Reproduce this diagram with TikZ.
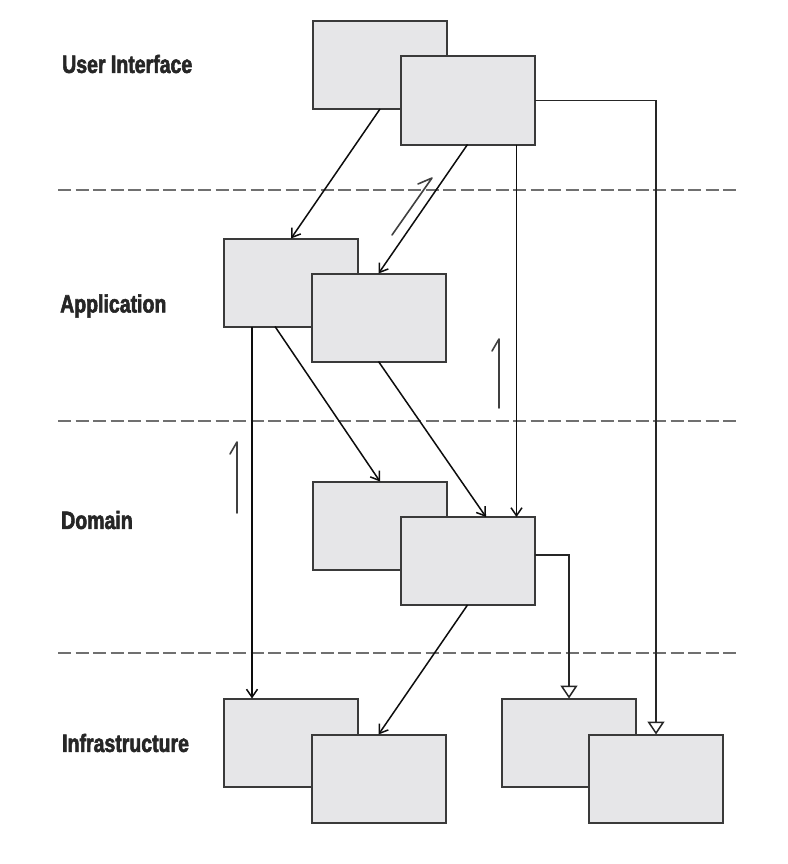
\documentclass[tikz,border=0pt]{standalone}
\usepackage{fontspec}
\newfontfamily\lblfont[FakeStretch=0.78,FakeBold=2.2]{Liberation Sans}
\usetikzlibrary{arrows.meta,calc}
\definecolor{boxfill}{HTML}{E6E6E8}
\definecolor{boxline}{HTML}{3A3A3A}
\definecolor{dashcol}{HTML}{707070}
\begin{document}
\begin{tikzpicture}[x=1pt,y=-1pt,
  box/.style={draw=boxline,fill=boxfill,line width=2pt,minimum width=134pt,minimum height=88pt,inner sep=0pt,outer sep=0pt},
  layerlabel/.style={anchor=west,inner sep=0pt,font=\lblfont\bfseries\fontsize{25}{28}\selectfont,text=black!85},
  sep/.style={draw=dashcol,line width=1.6pt,dash pattern=on 13pt off 4.5pt},
  dep/.style={draw=black!95,line width=1.5pt,-{Straight Barb[length=8pt,width=11pt]}},
  gen/.style={draw=black!85,line width=1.5pt,-{Triangle[open,length=13pt,width=17pt,line width=1.5pt]}},
  hand/.style={draw=black!75,line width=1.6pt,line cap=round,line join=round}]
\useasboundingbox (0,0) rectangle (787,864);
\fill[white] (0,0) rectangle (787,864);

% layer separators
\draw[sep] (58,190) -- (737,190);
\draw[sep] (58,421) -- (737,421);
\draw[sep] (58,653) -- (737,653);

% labels
\node[layerlabel] (lui) at (62,64) {User Interface};
\node[layerlabel] (lapp) at (60,306) {Application};
\node[layerlabel] (ldom) at (61,520) {Domain};
\node[layerlabel] (linf) at (62,743) {Infrastructure};

% boxes
\node[box] (ui1) at (380,65) {};
\node[box] (ui2) at (467.5,100.5) {};
\node[box] (app1) at (291,282.5) {};
\node[box] (app2) at (378.5,317.5) {};
\node[box] (dom1) at (380,525.5) {};
\node[box] (dom2) at (467.5,561) {};
\node[box] (inf1) at (291,742.5) {};
\node[box] (inf2) at (378.5,778.5) {};
\node[box] (inf3) at (569,742.5) {};
\node[box] (inf4) at (656,778.5) {};

% dependencies
\draw[dep] (ui1.south) -- (app1.north);
\draw[dep] (ui2.south) -- (app2.north);
\draw[dep] ([xshift=49pt]ui2.south) -- ([xshift=49pt]dom2.north);
\draw[gen] (ui2.east) -| (inf4.north);
\draw[dep] ([xshift=-16pt]app1.south) -- (dom1.north);
\draw[dep] ([xshift=-39pt]app1.south) -- ([xshift=-39pt]inf1.north);
\draw[dep] (app2.south) -- ([xshift=18.5pt]dom2.north);
\draw[dep] (dom2.south) -- (inf2.north);
\draw[gen] ([yshift=6pt]dom2.east) -| (inf3.north);

% hand-drawn direction marks
\coordinate (h1a) at (392,235);
\coordinate (h1b) at (432,178);
\coordinate (h1c) at (418,184);
\draw[hand] (h1a) -- (h1b) -- (h1c);
\coordinate (h2a) at (499,408);
\coordinate (h2b) at (499,339);
\coordinate (h2c) at (492,351);
\draw[hand] (h2a) -- (h2b) -- (h2c);
\coordinate (h3a) at (237,513);
\coordinate (h3b) at (237,442);
\coordinate (h3c) at (230,454);
\draw[hand] (h3a) -- (h3b) -- (h3c);
\end{tikzpicture}
\end{document}
